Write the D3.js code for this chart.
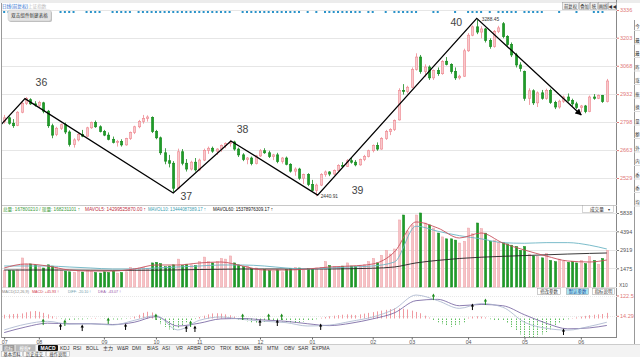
<!DOCTYPE html>
<html><head><meta charset="utf-8">
<script src="https://cdn.jsdelivr.net/npm/d3@7"></script>
<style>html,body{margin:0;padding:0;background:#fff;overflow:hidden}svg{display:block}
text{font-family:"Liberation Sans","Noto Sans CJK SC",sans-serif}</style>
</head><body><svg id="c" width="640" height="357"></svg>
<script>
// ---------------- DATA ----------------
const open = [2800,2818,2792,2782,2845,2888,2905,2885,2878,2890,
 2850,2780,2738,2768,2785,2750,2690,2712,2738,2730,
 2770,2795,2775,2752,2735,2715,2700,2705,2688,2718,
 2748,2775,2800,2815,2820,2752,2722,2650,2612,2600,
 2480,2655,2600,2572,2605,2568,2615,2662,2672,2658,
 2668,2685,2695,2702,2668,2640,2618,2625,2598,2635,
 2660,2650,2632,2640,2608,2625,2595,2562,2572,2528,
 2545,2498,2470,2495,2545,2558,2548,2565,2590,2585,
 2612,2605,2592,2618,2632,2660,2685,2668,2718,2752,
 2762,2808,2950,2945,2965,3050,3110,3040,3062,3010,
 3045,3030,3090,3075,3040,3010,3018,3140,3215,3255,
 3230,3245,3190,3160,3232,3270,3208,3170,3120,3072,
 3040,2912,2948,2890,2938,2912,2950,2892,2870,2898,
 2918,2902,2885,2868,2875,2848,2918,2912,2925,2896];
const close = [2818,2792,2780,2845,2888,2910,2885,2880,2892,2850,
 2780,2735,2768,2785,2750,2690,2712,2738,2730,2770,
 2795,2775,2752,2735,2715,2700,2705,2688,2718,2748,
 2775,2800,2815,2822,2752,2722,2650,2610,2600,2480,
 2655,2600,2572,2605,2568,2615,2662,2672,2658,2668,
 2685,2695,2702,2668,2640,2618,2625,2598,2635,2660,
 2650,2632,2640,2608,2625,2595,2562,2572,2528,2545,
 2498,2470,2495,2545,2558,2548,2565,2590,2585,2612,
 2605,2592,2618,2632,2660,2685,2668,2718,2752,2762,
 2805,2950,2945,2965,3050,3110,3040,3062,3010,3045,
 3030,3088,3075,3040,3010,3018,3140,3215,3255,3230,
 3245,3190,3160,3232,3250,3208,3170,3120,3072,3055,
 2912,2948,2890,2938,2912,2950,2892,2870,2898,2918,
 2902,2885,2868,2875,2848,2918,2912,2925,2896,2995];
const high = [2832,2825,2812,2850,2895,2918,2912,2898,2900,2895,
 2856,2790,2775,2790,2795,2758,2720,2745,2760,2775,
 2800,2805,2782,2760,2748,2728,2712,2715,2722,2752,
 2780,2808,2832,2830,2825,2760,2728,2672,2640,2610,
 2670,2668,2620,2612,2625,2622,2670,2680,2680,2672,
 2690,2700,2712,2708,2675,2648,2630,2632,2640,2668,
 2672,2660,2645,2650,2630,2632,2600,2580,2578,2550,
 2552,2520,2502,2552,2565,2562,2570,2595,2605,2620,
 2625,2615,2622,2640,2665,2690,2700,2725,2760,2768,
 2810,2960,2980,2972,3060,3128,3120,3075,3070,3050,
 3060,3095,3110,3080,3060,3025,3150,3225,3262,3288,
 3258,3250,3200,3240,3260,3278,3215,3180,3130,3085,
 3045,2960,2955,2945,2952,2958,2958,2900,2905,2925,
 2935,2910,2895,2880,2880,2925,2932,2930,2928,3005];
const low = [2790,2785,2770,2778,2840,2880,2880,2872,2870,2840,
 2770,2720,2730,2760,2740,2680,2675,2705,2725,2728,
 2765,2770,2748,2730,2710,2695,2680,2680,2684,2712,
 2740,2768,2790,2800,2745,2715,2640,2595,2580,2462,
 2475,2590,2560,2565,2560,2562,2610,2645,2650,2640,
 2655,2672,2680,2660,2630,2610,2595,2590,2594,2630,
 2645,2625,2615,2600,2598,2590,2555,2540,2520,2500,
 2490,2465,2441,2490,2535,2538,2542,2560,2578,2582,
 2598,2585,2588,2610,2628,2652,2660,2665,2712,2735,
 2755,2805,2930,2935,2960,3045,3030,3015,3000,3000,
 3020,3025,3070,3030,3000,3002,3015,3135,3210,3220,
 3200,3180,3150,3155,3225,3200,3160,3110,3060,3040,
 2900,2880,2880,2870,2905,2905,2885,2860,2862,2890,
 2895,2875,2860,2845,2840,2845,2905,2908,2890,2892];
const volume = [1290,1300,1280,1350,2290,1810,1820,1750,1600,1500,
 1750,1650,1550,1300,1250,1200,1150,1250,1180,1300,
 1220,1150,1100,1200,1150,1250,1100,1150,1200,1550,
 1450,1500,1550,1450,1900,1950,1850,1600,1650,1750,
 2200,1700,1800,1750,1700,2000,2360,2000,1900,2000,
 2250,2200,2450,1900,1750,1600,1650,1450,1500,1350,
 1400,1300,1250,1350,1200,1400,1450,1550,1500,1350,
 1450,1400,1500,1550,2000,1700,1600,1550,1650,1900,
 1650,1600,1700,1750,2000,2250,1900,2500,2900,2600,
 3000,5290,5680,4420,4900,5680,5840,5050,4900,4650,
 4260,3950,3800,3800,3700,3470,3600,4650,4200,5050,
 4600,4250,3600,3700,3500,3500,3400,3300,3200,2900,
 3200,2600,2450,2400,2300,2650,2100,2000,2200,2050,
 1950,2000,1900,2100,1850,2400,2100,1800,2250,2900];
const macdHist = [20,22,24,25,27,33,38,40,36,30,
 22,12,4,-3,-6,-8,-6,-4,-5,-3,
 2,3,1,-2,-4,-5,-6,-4,-2,3,
 10,20,30,36,32,-10,-30,-45,-58,-61,
 -50,-35,-20,-10,-3,8,15,22,27,28,
 26,22,17,10,-5,-10,-15,-20,-24,-22,
 -18,-14,-10,-12,-15,-18,-20,-22,-20,-16,
 -12,-8,-4,4,8,12,15,18,20,22,
 20,18,22,26,30,34,38,42,46,50,
 54,54,52,48,42,35,28,15,5,-10,
 -20,-30,-40,-44,-40,-32,-20,5,10,12,
 10,6,-4,-8,-10,-12,-25,-45,-65,-85,
 -100,-105,-102,-95,-85,-72,-58,-42,-25,-12,
 -4,2,6,10,14,18,20,22,24,30];
// sampled lines (every 5th bar)
const sampleIdx = [0,5,10,15,20,25,30,35,40,45,50,55,60,65,70,75,80,85,90,95,100,105,110,115,120,125,130,135,139];
const mavol5  = [1500,1815,1657,1341,1262,1262,1420,1736,1736,1894,1973,1657,1341,1341,1420,1578,1657,1815,2762,5130,4655,3866,4261,3472,2919,2446,2051,1973,2130];
const mavol10 = [1657,1657,1657,1578,1499,1420,1420,1499,1578,1657,1736,1736,1657,1499,1420,1499,1578,1657,1973,4800,4400,4050,3800,3500,3450,3500,3500,3300,2998];
const mavol60 = [1341,1341,1341,1341,1330,1320,1320,1330,1350,1380,1400,1420,1420,1420,1420,1420,1440,1480,1578,1900,2100,2250,2350,2420,2480,2540,2600,2650,2683];
const diff = [-61,-30,-15,-30,-28,-35,-10,15,-61,-10,8,-5,-15,-22,-40,-35,-15,8,50,125,95,54,80,60,-20,-52,-62,-42,-20];
const dea  = [-75,-45,-25,-28,-28,-32,-20,10,-40,-25,-2,0,-8,-15,-28,-38,-25,-2,30,95,102,68,75,68,20,-25,-55,-50,-37];
// signals in MACD panel
const buyIdx = [13,18,28,42,44,59,63,73,108,129];
const buyVal = [-45,-51,-45,-56,-56,-24,-24,-45,61,-72];
const greenIdx = [9,14,24,35,43,55,61,64,99,111];
const greenVal = [-19,-24,-13,8,-29,8,8,8,114,88];
// event dots row
const dotIdx = [0,1,13,14,15,16,19,20,21,22,25,26,27,28,29,31,32,33,34,35,36,37,38,39,40,41,42,43,44,45,46,47,48,49,50,51,52,55,56,57,58,59,60,61,62,63,64,65,66,67,68,70,72,74,75,76,77,78,79,80,81,82,84,85,88,90,91,92,93,94,95,99,100,104,107,108,109,110,112,114,115,116,117,118,120,121,122,123,124,128,132,136,137,138];
// wave annotation
const zigIdx = [-1,4.8,39,52.3,72.3,109,133.1];
const zigPrice = [2779,2910,2457,2707,2447,3296,2832];
const waveLabels = ["36","37","38","39","40"];
const waveIdx = [8.6,42,55,81.5,104.3];
const wavePrice = [2990,2442,2764,2471,3278];
// ticks
const priceTicks = [3336,3203,3068,2932,2798,2663,2529];
const volTicks = [5838,4394,2919,1475];
const macdTicks = [122.5,14.29];
const monthIdx = [0,8,23,35,45,59,71,85,94,107,120,133];
const monthLbl = ["07","08","09","10","11","12","01","02","03","04","05","06"];
const tabs = ["KDJ","RSI","BOLL","主力","W&R","DMI","BIAS","ASI","VR","ARBR","DPO","TRIX","BCMA","BBI","MTM","OBV","SAR","EXPMA"];
const tabX = [60,73,86,103,117,132,147,162,176,187,204,220,235,254,267,284,298,312];

// ---------------- SCALES ----------------
const svg = d3.select("#c");
const N = close.length;
const xi = d3.scaleLinear().domain([-0.5, N-0.5]).range([2,609]);
const yP = d3.scaleLinear().domain([2529,3336]).range([178,10]);
const yV = d3.scaleLinear().domain([0,5838]).range([287,213]);
const yM = d3.scaleLinear().domain([0,122.5]).range([318.5,295.5]);
const UP_F="#f8c9cc", UP_S="#ee8890", DN_F="#1e9c28", DN_S="#178a1f";

svg.append("rect").attr("width",640).attr("height",357).attr("fill","#fff");
const defs = svg.append("defs");
defs.append("clipPath").attr("id","cm").append("rect").attr("x",2).attr("y",3).attr("width",615).attr("height",202);
defs.append("clipPath").attr("id","cv").append("rect").attr("x",2).attr("y",212).attr("width",615).attr("height",76);
defs.append("clipPath").attr("id","cd").append("rect").attr("x",2).attr("y",294).attr("width",615).attr("height",43);
defs.append("marker").attr("id","arr").attr("viewBox","0 0 10 10").attr("refX",9).attr("refY",5)
  .attr("markerWidth",5).attr("markerHeight",5).attr("orient","auto")
  .append("path").attr("d","M0,0 L10,5 L0,10 z").attr("fill","#000");

// top strip
svg.append("rect").attr("x",0).attr("y",0).attr("width",640).attr("height",3).attr("fill","#ececec");
svg.append("text").attr("x",2).attr("y",7.5).attr("font-size",4.6).attr("fill","#2f6fd0").text("日线(前复权)");
svg.append("text").attr("x",28).attr("y",7.5).attr("font-size",4.6).attr("fill","#bbb").text("上证指数");

// frame lines
svg.append("line").attr("x1",1.5).attr("x2",1.5).attr("y1",3).attr("y2",338).attr("stroke","#999");
svg.append("line").attr("x1",616.5).attr("x2",616.5).attr("y1",0).attr("y2",338).attr("stroke","#888");
svg.append("line").attr("x1",2).attr("x2",617).attr("y1",205.5).attr("y2",205.5).attr("stroke","#c8c8c8");
svg.append("line").attr("x1",2).attr("x2",617).attr("y1",287.5).attr("y2",287.5).attr("stroke","#e2e2e2");
svg.append("line").attr("x1",2).attr("x2",617).attr("y1",337.5).attr("y2",337.5).attr("stroke","#888");

// side panel
svg.append("line").attr("x1",634.5).attr("x2",634.5).attr("y1",20).attr("y2",357).attr("stroke","#999");
const sideCh = "今最最昨涨振换量额外内委委均";
d3.range(14).forEach(k=>{
  const yy = 26 + k*13.5;
  svg.append("line").attr("x1",634).attr("x2",640).attr("y1",yy+4.5).attr("y2",yy+4.5).attr("stroke","#ddd");
  svg.append("text").attr("x",635.3).attr("y",yy+2).attr("font-size",4.4).attr("fill","#333").text(sideCh[k]);
});

// grid main
svg.append("g").selectAll("line").data(priceTicks).join("line")
  .attr("x1",2).attr("x2",617).attr("y1",d=>Math.round(yP(d))+0.5).attr("y2",d=>Math.round(yP(d))+0.5)
  .attr("stroke","#e6e6e6");
const axP = svg.append("g").attr("transform","translate(617,0)")
  .call(d3.axisRight(yP).tickValues(priceTicks).tickSize(2).tickPadding(1).tickFormat(d3.format("d")));
axP.select(".domain").remove();
axP.selectAll("text").attr("fill","#e07878").attr("font-size",5.5).attr("font-family","Liberation Sans");
axP.selectAll("line").attr("stroke","#e07878");

// dots row
svg.append("g").selectAll("rect").data(dotIdx).join("rect")
  .attr("x",d=>xi(d)-1).attr("y",11).attr("width",2).attr("height",2).attr("fill","#2a93c9");

// candles
const cg = svg.append("g").attr("clip-path","url(#cm)");
const idx = d3.range(N);
cg.selectAll("line.w").data(idx).join("line")
  .attr("x1",i=>Math.round(xi(i))+0.5).attr("x2",i=>Math.round(xi(i))+0.5)
  .attr("y1",i=>yP(high[i])).attr("y2",i=>yP(low[i]))
  .attr("stroke",i=>close[i]>=open[i]?UP_S:DN_S).attr("stroke-width",0.8);
cg.selectAll("rect.b").data(idx).join("rect")
  .attr("x",i=>Math.round(xi(i))-0.5).attr("width",2.2)
  .attr("y",i=>yP(Math.max(open[i],close[i])))
  .attr("height",i=>Math.max(0.8,Math.abs(yP(open[i])-yP(close[i]))))
  .attr("fill",i=>close[i]>=open[i]?UP_F:DN_F)
  .attr("stroke",i=>close[i]>=open[i]?UP_S:DN_S).attr("stroke-width",0.6);

// zigzag annotation
const zig = d3.line().x(d=>xi(d[0])).y(d=>yP(d[1]));
cg.append("path").datum(zigIdx.map((d,k)=>[d,zigPrice[k]]))
  .attr("d",zig).attr("fill","none").attr("stroke","#000").attr("stroke-width",1.3)
  .attr("marker-end","url(#arr)");
svg.append("g").selectAll("text").data(waveLabels).join("text")
  .attr("x",(d,k)=>xi(waveIdx[k])).attr("y",(d,k)=>yP(wavePrice[k])+3.5)
  .attr("text-anchor","middle").attr("font-family","Liberation Serif, DejaVu Serif, serif")
  .attr("font-size",10.5).attr("fill","#444").text(d=>d);
svg.append("text").attr("x",xi(72.3)+3).attr("y",yP(2440.91)+2).attr("font-size",4.8).attr("fill","#333").text("2440.91");
svg.append("text").attr("x",xi(109)+5).attr("y",yP(3288.45)+1.5).attr("font-size",4.8).attr("fill","#333").text("3288.45");

// tooltip box
svg.append("rect").attr("x",9).attr("y",11).attr("width",43).attr("height",11).attr("rx",2).attr("fill","#bdbdbd");
svg.append("rect").attr("x",8).attr("y",10).attr("width",43).attr("height",11).attr("rx",2).attr("fill","#e4e4e4").attr("stroke","#c4c4c4").attr("stroke-width",0.5);
svg.append("text").attr("x",29.5).attr("y",17.3).attr("text-anchor","middle").attr("font-size",4.6).attr("fill","#333").text("双击组件新建表格");

// top-right buttons
const btn = [[562,16,"前复权"],[579,10,"叠加"],[590,7,"统"],[598,9,"画线"],[608,8,"◀◀"]];
btn.forEach(b=>{
  svg.append("rect").attr("x",b[0]+0.5).attr("y",2.5).attr("width",b[1]).attr("height",7).attr("fill","#f2f2f2").attr("stroke","#999").attr("stroke-width",0.5);
  svg.append("text").attr("x",b[0]+0.5+b[1]/2).attr("y",7.8).attr("text-anchor","middle").attr("font-size",4.3).attr("fill","#333").text(b[2]);
});

// ---------- volume panel ----------
svg.append("g").selectAll("line").data(volTicks).join("line")
  .attr("x1",2).attr("x2",617).attr("y1",d=>Math.round(yV(d))+0.5).attr("y2",d=>Math.round(yV(d))+0.5).attr("stroke","#e6e6e6");
const axV = svg.append("g").attr("transform","translate(617,0)")
  .call(d3.axisRight(yV).tickValues(volTicks).tickSize(2).tickPadding(1).tickFormat(d3.format("d")));
axV.select(".domain").remove();
axV.selectAll("text").attr("fill","#555").attr("font-size",5.5).attr("font-family","Liberation Sans");
axV.selectAll("line").attr("stroke","#777");
svg.append("text").attr("x",619).attr("y",287).attr("font-size",5).attr("fill","#555").text("X10");
const vg = svg.append("g").attr("clip-path","url(#cv)");
vg.selectAll("rect").data(idx).join("rect")
  .attr("x",i=>Math.round(xi(i))-0.5).attr("width",2.2)
  .attr("y",i=>yV(volume[i])).attr("height",i=>yV(0)-yV(volume[i]))
  .attr("fill",i=>close[i]>=open[i]?"#f6c3c6":DN_F)
  .attr("stroke",i=>close[i]>=open[i]?"#eda0a6":DN_S).attr("stroke-width",0.5);
const vl = d3.line().x((d,k)=>xi(sampleIdx[k])).y(d=>yV(d)).curve(d3.curveMonotoneX);
vg.append("path").datum(mavol60).attr("d",vl).attr("fill","none").attr("stroke","#222").attr("stroke-width",0.9);
vg.append("path").datum(mavol10).attr("d",vl).attr("fill","none").attr("stroke","#6cb4c4").attr("stroke-width",0.9);
vg.append("path").datum(mavol5).attr("d",vl).attr("fill","none").attr("stroke","#c8505c").attr("stroke-width",0.9);
// volume legend
const vleg = [[3,77,"#3a9a3a","总量: 167800210 / 现量: 168231101 ↑"],[85,61,"#c03040","MAVOL5: 14299525870.00 ↑"],
              [148,58,"#3a9eb0","MAVOL10: 13444087389.17 ↑"],[213,60,"#111","MAVOL60: 15378976309.17 ↑"]];
vleg.forEach(l=>svg.append("text").attr("x",l[0]).attr("y",211).attr("font-size",5).attr("textLength",l[1])
  .attr("lengthAdjust","spacingAndGlyphs").attr("fill",l[2]).text(l[3]));
svg.append("rect").attr("x",582.5).attr("y",205.5).attr("width",31).attr("height",7).attr("fill","#fff").attr("stroke","#aaa").attr("stroke-width",0.5);
svg.append("text").attr("x",590).attr("y",211).attr("font-size",4.6).attr("fill","#333").text("成交量");
svg.append("text").attr("x",608).attr("y",211).attr("font-size",4).attr("fill","#333").text("▾");

// ---------- MACD panel ----------
svg.append("g").selectAll("line").data(macdTicks).join("line")
  .attr("x1",2).attr("x2",617).attr("y1",d=>Math.round(yM(d))+0.5).attr("y2",d=>Math.round(yM(d))+0.5)
  .attr("stroke","#e8e8e8").attr("stroke-dasharray","1,1");
const axM = svg.append("g").attr("transform","translate(617,0)")
  .call(d3.axisRight(yM).tickValues(macdTicks).tickSize(2).tickPadding(1).tickFormat(d=>d));
axM.select(".domain").remove();
axM.selectAll("text").attr("fill","#e07878").attr("font-size",5.5).attr("font-family","Liberation Sans");
axM.selectAll("line").attr("stroke","#e07878");
const mg = svg.append("g").attr("clip-path","url(#cd)");
mg.selectAll("line.h").data(idx).join("line")
  .attr("x1",i=>Math.round(xi(i))+0.5).attr("x2",i=>Math.round(xi(i))+0.5)
  .attr("y1",yM(0)).attr("y2",i=>yM(macdHist[i]))
  .attr("stroke",i=>macdHist[i]>=0?"#ee8f96":"#4fb84f").attr("stroke-width",0.9)
  .attr("stroke-dasharray",i=>macdHist[i]>=0?null:"1.5,1");
const ml = d3.line().x((d,k)=>xi(sampleIdx[k])).y(d=>yM(d)).curve(d3.curveMonotoneX);
mg.append("path").datum(dea).attr("d",ml).attr("fill","none").attr("stroke","#6e5c9c").attr("stroke-width",0.8);
mg.append("path").datum(diff).attr("d",ml).attr("fill","none").attr("stroke","#a6b2cc").attr("stroke-width",0.8);
function arrow(g,x,y,c){
  g.append("line").attr("x1",x).attr("x2",x).attr("y1",y-1).attr("y2",y+3).attr("stroke",c).attr("stroke-width",1);
  g.append("path").attr("d",`M${x-1.6},${y-0.5} L${x},${y-3.5} L${x+1.6},${y-0.5} Z`).attr("fill",c);
}
buyIdx.forEach((d,k)=>arrow(svg,xi(d),yM(buyVal[k]),"#000"));
greenIdx.forEach((d,k)=>arrow(svg,xi(d),yM(greenVal[k]),"#1a8a1a"));
// MACD legend
const mleg = [[2,27,"#888","MACD(12,26,9)"],[32,27,"#d03a4a","MACD: +45.93 ↑"],[68,23,"#6a98a8","DIFF: -20.10 ↑"],[98,23,"#9a5aa8","DEA: -43.07 ↑"]];
mleg.forEach(l=>svg.append("text").attr("x",l[0]).attr("y",292.5).attr("font-size",4.3).attr("textLength",l[1])
  .attr("lengthAdjust","spacingAndGlyphs").attr("fill",l[2]).text(l[3]));
const mbtn = [[537,23,"修改参数",false],[566,22,"默认参数",true],[592,22,"指标说明",false]];
mbtn.forEach(b=>{
  svg.append("rect").attr("x",b[0]+0.5).attr("y",288.5).attr("width",b[1]).attr("height",6).attr("fill",b[3]?"#a8e4f2":"#fff").attr("stroke","#999").attr("stroke-width",0.5);
  svg.append("text").attr("x",b[0]+0.5+b[1]/2).attr("y",293.3).attr("text-anchor","middle").attr("font-size",4.4).attr("fill",b[3]?"#1a4a9a":"#333").text(b[2]);
});

// time axis
const axT = svg.append("g").attr("transform","translate(0,337.5)")
  .call(d3.axisBottom(xi).tickValues(monthIdx).tickSize(2).tickPadding(0.5).tickFormat((d,k)=>monthLbl[k]));
axT.select(".domain").remove();
axT.selectAll("text").attr("fill","#555").attr("font-size",5.3).attr("font-family","Liberation Sans");
axT.selectAll("line").attr("stroke","#666");

// bottom tab bar
svg.append("rect").attr("x",0).attr("y",344).attr("width",640).attr("height",13).attr("fill","#f3f3f3");
svg.append("line").attr("x1",0).attr("x2",640).attr("y1",344.5).attr("y2",344.5).attr("stroke","#ccc");
svg.append("rect").attr("x",2.5).attr("y",345).attr("width",12).attr("height",6).attr("fill","#9a9a9a");
svg.append("text").attr("x",8.5).attr("y",349.6).attr("text-anchor","middle").attr("font-size",4.5).attr("fill","#fff").text("指标");
svg.append("rect").attr("x",15.5).attr("y",345).attr("width",20).attr("height",6).attr("fill","#b8b8b8");
svg.append("text").attr("x",25.5).attr("y",349.6).attr("text-anchor","middle").attr("font-size",4.5).attr("fill","#fff").text("模板▾");
svg.append("rect").attr("x",38).attr("y",345).attr("width",20).attr("height",6).attr("rx",1).attr("fill","#111");
svg.append("text").attr("x",48).attr("y",349.8).attr("text-anchor","middle").attr("font-size",5).attr("font-weight","bold").attr("fill","#fff").text("MACD");
svg.append("g").selectAll("text").data(tabs).join("text")
  .attr("x",(d,k)=>tabX[k]).attr("y",349.8).attr("font-size",5).attr("fill","#333").text(d=>d);
const row2 = [[1,21,"基本资料"],[23,22,"历史成交"],[46,23,"操作说明"]];
row2.forEach(b=>{
  svg.append("rect").attr("x",b[0]+0.5).attr("y",351.5).attr("width",b[1]).attr("height",5).attr("fill","#fafafa").attr("stroke","#aaa").attr("stroke-width",0.5);
  svg.append("text").attr("x",b[0]+0.5+b[1]/2).attr("y",355.6).attr("text-anchor","middle").attr("font-size",4.2).attr("fill","#333").text(b[2]);
});
</script></body></html>
